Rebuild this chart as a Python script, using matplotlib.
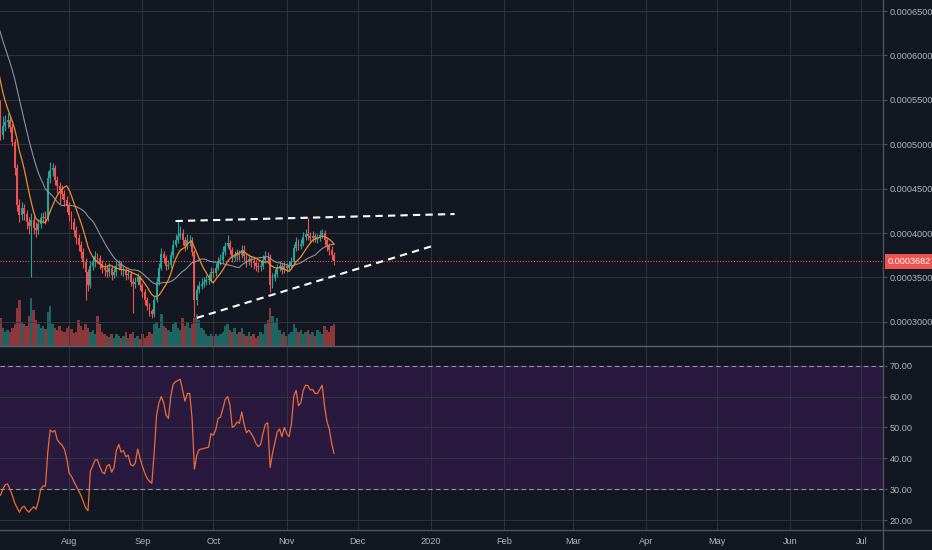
import matplotlib
matplotlib.use("Agg")
import matplotlib.pyplot as plt
import matplotlib.dates as mdates
import matplotlib.transforms as mtransforms
from matplotlib import font_manager
from matplotlib.lines import Line2D
import numpy as np
import pandas as pd

# daily candles from 2019-07-03, prices in units of 1e-7
start_date = "2019-07-03"

closes = [
    5103, 5205, 5250, 5272, 5194, 5025, 4732, 4315, 4203, 4282,
    4214, 4124, 4079, 4146, 4056, 4034, 4101, 4169, 4180, 4169,
    4619, 4709, 4732, 4597, 4529, 4484, 4439, 4372, 4304, 4203,
    4124, 4034, 3944, 3865, 3786, 3673, 3561, 3414, 3628, 3673,
    3741, 3718, 3651, 3606, 3583, 3561, 3606, 3527, 3561, 3628,
    3651, 3583, 3583, 3527, 3538, 3448, 3426, 3448, 3505, 3414,
    3336, 3246, 3178, 3122, 3088, 3246, 3448, 3606, 3764, 3718,
    3628, 3640, 3752, 3865, 3921, 3966, 4000, 3921, 3854, 3921,
    3921, 3786, 3246, 3358, 3403, 3426, 3448, 3471, 3482, 3561,
    3550, 3606, 3673, 3696, 3786, 3854, 3887, 3809, 3718, 3741,
    3764, 3752, 3809, 3741, 3696, 3707, 3685, 3662, 3628, 3617,
    3628, 3696, 3741, 3730, 3414, 3493, 3538, 3606, 3628, 3583,
    3628, 3606, 3628, 3673, 3831, 3899, 3854, 3876, 3955, 3989,
    3966, 3944, 3966, 3944, 3944, 3977, 4000, 3921, 3854, 3809,
    3752, 3682,
]

highs = [
    5500, 5320, 5330, 5350, 5320, 5230, 5060, 4780, 4380, 4350,
    4330, 4260, 4180, 4230, 4190, 4120, 4160, 4220, 4240, 4250,
    4700, 4800, 4790, 4770, 4640, 4580, 4540, 4490, 4420, 4350,
    4250, 4170, 4080, 3990, 3910, 3830, 3720, 3600, 3680, 3740,
    3800, 3780, 3750, 3700, 3660, 3640, 3660, 3640, 3610, 3680,
    3700, 3680, 3640, 3620, 3590, 3570, 3490, 3500, 3550, 3530,
    3440, 3370, 3280, 3210, 3150, 3290, 3500, 3660, 3830, 3800,
    3750, 3700, 3800, 3920, 3990, 4135, 4080, 4040, 3950, 3990,
    3980, 3950, 3810, 3420, 3460, 3490, 3510, 3530, 3540, 3620,
    3610, 3660, 3730, 3760, 3850, 3900, 3977, 3920, 3840, 3800,
    3820, 3810, 3870, 3860, 3770, 3760, 3740, 3720, 3700, 3670,
    3680, 3750, 3800, 3790, 3760, 3550, 3590, 3650, 3680, 3660,
    3670, 3660, 3680, 3730, 3880, 3950, 3930, 3930, 4010, 4040,
    4170, 4010, 4020, 4000, 3990, 4030, 4050, 4030, 3950, 3890,
    3850, 3790,
]

lows = [
    5050, 5060, 5150, 5180, 5140, 4980, 4650, 4250, 4120, 4150,
    4150, 4050, 3990, 3505, 3990, 3960, 3990, 4060, 4110, 4100,
    4140, 4560, 4640, 4540, 4450, 4330, 4380, 4300, 4240, 4140,
    4050, 3970, 3880, 3800, 3720, 3610, 3246, 3350, 3380, 3580,
    3620, 3660, 3600, 3550, 3520, 3500, 3520, 3470, 3490, 3520,
    3580, 3530, 3520, 3470, 3480, 3400, 3099, 3380, 3410, 3360,
    3280, 3190, 3130, 3070, 3043, 3060, 3220, 3420, 3580, 3660,
    3580, 3590, 3610, 3720, 3840, 3890, 3930, 3870, 3800, 3820,
    3850, 3740, 3054, 3190, 3330, 3370, 3390, 3410, 3430, 3450,
    3500, 3520, 3580, 3640, 3660, 3750, 3830, 3760, 3670, 3680,
    3700, 3700, 3720, 3690, 3620, 3640, 3620, 3600, 3570, 3560,
    3570, 3590, 3660, 3680, 3336, 3380, 3460, 3500, 3570, 3540,
    3550, 3560, 3570, 3600, 3650, 3800, 3810, 3820, 3850, 3920,
    3920, 3890, 3900, 3900, 3890, 3910, 3940, 3870, 3800, 3750,
    3700, 3640,
]

volumes = [
    28, 18, 14, 16, 14, 18, 22, 38, 46, 24,
    22, 20, 30, 48, 36, 26, 22, 18, 20, 17,
    34, 40, 22, 18, 16, 20, 15, 14, 18, 20,
    17, 13, 14, 26, 20, 16, 22, 18, 14, 16,
    12, 30, 22, 14, 12, 10, 9, 12, 8, 12,
    10, 8, 10, 14, 8, 12, 14, 8, 10, 7,
    12, 8, 10, 14, 12, 22, 24, 18, 32, 20,
    18, 16, 14, 22, 24, 18, 16, 28, 20, 24,
    18, 22, 28, 32, 26, 18, 16, 12, 10, 12,
    10, 12, 10, 12, 14, 20, 22, 16, 14, 18,
    12, 14, 18, 12, 10, 14, 10, 12, 8, 10,
    14, 12, 22, 26, 38, 30, 24, 28, 16, 12,
    14, 10, 12, 14, 22, 18, 14, 16, 12, 14,
    16, 12, 14, 10, 16, 14, 12, 20, 16, 14,
    20, 22,
]

rsi_values = [
    28.0, 30.0, 31.4, 31.7, 30.0, 28.0, 25.5, 24.0, 22.5, 24.0,
    24.5, 23.3, 22.5, 23.5, 24.3, 23.5, 26.0, 30.0, 31.0, 31.0,
    42.0, 49.2, 48.5, 49.0, 46.0, 45.0, 44.3, 43.0, 40.0, 35.2,
    34.2, 32.5, 31.0, 29.5, 28.0, 26.0, 24.0, 23.0, 35.8, 37.5,
    39.5, 39.5, 37.3, 35.5, 35.0, 37.5, 38.0, 35.5, 37.0, 42.5,
    44.5, 42.0, 42.5, 40.5, 41.0, 38.0, 37.5, 38.5, 43.0, 40.0,
    37.5, 35.2, 33.5, 32.5, 31.9, 42.0, 54.0, 58.0, 60.0, 58.0,
    54.0, 52.9, 60.0, 64.0, 64.8, 65.2, 65.6, 62.0, 58.5, 61.0,
    61.0, 53.0, 36.5, 41.0, 42.8, 43.0, 43.2, 43.4, 43.6, 48.0,
    47.5, 49.2, 52.9, 53.3, 56.0, 59.0, 60.0, 57.3, 50.0, 50.5,
    51.8, 51.3, 55.0, 51.0, 48.3, 49.1, 48.0, 46.7, 44.8, 43.8,
    44.5, 48.1, 51.0, 51.5, 37.0, 41.5, 45.0, 48.5, 49.5, 47.0,
    50.0, 48.0, 47.0, 51.0, 60.0, 62.0, 57.0, 58.0, 62.0, 63.7,
    63.5, 62.1, 62.3, 61.0, 61.0, 62.3, 63.7, 57.0, 52.0, 49.5,
    45.0, 41.6,
]

# closes of the 20 days before the window, only used by the moving averages
warmup_closes = [
    6900, 6950, 6900, 6850, 6800, 6750, 6700, 6650, 6600, 6550,
    6500, 6400, 6300, 6150, 6000, 5850, 5700, 5500, 5300, 5450,
]

last_price = 3682
upper_trend_dates = ["2019-09-15", "2020-01-11"]
upper_trend_prices = [4135, 4214]
lower_trend_dates = ["2019-09-24", "2020-01-03"]
lower_trend_prices = [3045, 3865]

price_ticks = [3000, 3500, 4000, 4500, 5000, 5500, 6000, 6500]
rsi_ticks = [20, 30, 40, 50, 60, 70]

BG = "#131722"
TEXT = "#b2b5be"
SEP = "#50535e"
UP = "#26a69a"
DOWN = "#ef5350"
FS = 6.6

names = {f.name for f in font_manager.fontManager.ttflist}
fams = [f for f in ["Liberation Sans Narrow", "Liberation Sans"] if f in names]
plt.rcParams["font.family"] = fams[:1] + ["DejaVu Sans"]

unit = 1e-7
dates = pd.date_range(start_date, periods=len(closes), freq="D")
warm_dates = pd.date_range(end=dates[0] - pd.Timedelta(days=1), periods=len(warmup_closes), freq="D")
x = mdates.date2num(dates)

c = np.array(closes) * unit
h = np.array(highs) * unit
l = np.array(lows) * unit
o = np.r_[warmup_closes[-1], closes[:-1]] * unit
up = c >= o
colors = np.where(up, UP, DOWN)

all_close = pd.Series(np.r_[warmup_closes, closes] * unit,
                      index=warm_dates.append(dates))
ma_fast = all_close.rolling(9).mean()
ma_slow = all_close.rolling(20).mean()

W, H = 932, 550
fig = plt.figure(figsize=(W / 100, H / 100), dpi=100, facecolor=BG)
ax = fig.add_axes([0, 1 - 346 / H, 883 / W, 346 / H], facecolor=BG)
ax_rsi = fig.add_axes([0, 20 / H, 883 / W, 184 / H], facecolor=BG, sharex=ax)

# volume on its own scale at the bottom of the price pane
ax_vol = ax.twinx()
ax_vol.bar(x, volumes, width=1.0, color=colors, alpha=0.55, linewidth=0)
ax_vol.set_ylim(0, max(volumes) * 7.2)
ax_vol.set_yticks([])
ax.set_zorder(ax_vol.get_zorder() + 1)
ax.patch.set_visible(False)
ax_vol.patch.set_facecolor(BG)

# candles
ax.vlines(x, l, h, colors=colors, linewidth=0.8, zorder=3)
body = np.maximum(np.abs(c - o), 6 * unit)
ax.bar(x, body, bottom=np.minimum(o, c), width=0.8, color=colors, linewidth=0, zorder=4)

ax.plot(mdates.date2num(ma_slow.index), ma_slow.values, color="#8f929b", lw=0.8, zorder=5)
ax.plot(mdates.date2num(ma_fast.index), ma_fast.values, color="#f08c2c", lw=0.9, zorder=5)

ax.plot(mdates.datestr2num(upper_trend_dates), np.array(upper_trend_prices) * unit,
        color="white", lw=1.5, dashes=(3.5, 2.5), zorder=6)
ax.plot(mdates.datestr2num(lower_trend_dates), np.array(lower_trend_prices) * unit,
        color="white", lw=1.5, dashes=(3.5, 2.5), zorder=6)

ax.axhline(last_price * unit, color=DOWN, lw=0.8, ls=(0, (1, 1.5)), zorder=2)
trans = mtransforms.blended_transform_factory(ax.transAxes, ax.transData)
ax.text(1 + 5 / 883, last_price * unit, f"{last_price * unit:.7f}", transform=trans,
        ha="left", va="center", color="white", fontsize=FS, clip_on=False,
        bbox=dict(boxstyle="square,pad=0.3", fc=DOWN, ec="none"), zorder=10)

ax.set_ylim(0.0002728, 0.0006624)
ax.set_yticks(np.array(price_ticks) * unit)
ax.yaxis.set_major_formatter(plt.FuncFormatter(lambda v, p: f"{v:.7f}"))

# RSI pane
ax_rsi.plot(x, rsi_values, color="#ec6b3a", lw=0.9, zorder=5)
ax_rsi.axhspan(30, 70, color="#29193f", zorder=0.1, lw=0)
for lvl in (30, 70):
    ax_rsi.axhline(lvl, color="#9598a1", lw=0.8, dashes=(4, 3), zorder=3)
ax_rsi.set_ylim(16.76, 76.38)
ax_rsi.set_yticks(rsi_ticks)
ax_rsi.yaxis.set_major_formatter(plt.FuncFormatter(lambda v, p: f"{v:.2f}"))

left = x[0] - 0.5 / 2.365
ax.set_xlim(left, left + 883 / 2.365)
ax.xaxis.set_major_locator(mdates.MonthLocator())
ax.xaxis.set_major_formatter(plt.FuncFormatter(
    lambda v, p: str(mdates.num2date(v).year) if mdates.num2date(v).month == 1
    else mdates.num2date(v).strftime("%b")))

for a in (ax, ax_rsi):
    for s in a.spines.values():
        s.set_visible(False)
    a.grid(True, color="#343844", lw=0.8, alpha=0.8)
    a.set_axisbelow(True)
    a.yaxis.tick_right()
    a.tick_params(axis="y", length=3, color=SEP, labelcolor=TEXT, labelsize=FS, pad=2)
    a.tick_params(axis="x", length=0, labelcolor=TEXT, labelsize=FS, pad=5)
for s in ax_vol.spines.values():
    s.set_visible(False)
ax.tick_params(axis="x", labelbottom=False)

fig.add_artist(Line2D([0, 1], [1 - 346 / H, 1 - 346 / H], color="#5d606b", lw=1))
fig.add_artist(Line2D([0, 1], [20 / H, 20 / H], color=SEP, lw=1))
fig.add_artist(Line2D([883 / W, 883 / W], [0, 1], color=SEP, lw=1))

fig.savefig("out.png", dpi=100, facecolor=BG)
